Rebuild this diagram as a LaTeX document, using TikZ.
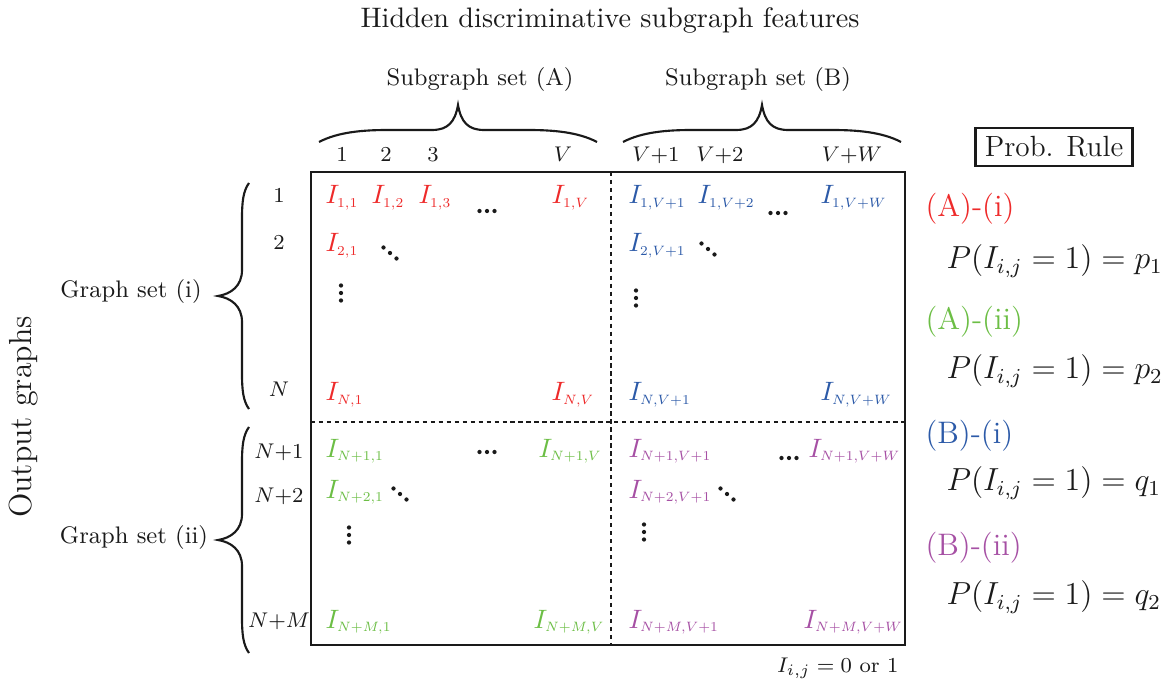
\documentclass[tikz,border=0pt]{standalone}
\usepackage{amsmath,amssymb}
\usepackage{tikz}
\usetikzlibrary{positioning,calc}
\DeclareFontShape{OML}{cmm}{m}{it}{<5.1>cmmi7<5><6><7><8><9><10><12>gen*cmmi<10.95><14.4><17.28><20.74><24.88>cmmi10}{\skewchar\font127}
\DeclareFontShape{OT1}{cmr}{m}{n}{<5.1>cmr7<5><6><7><8><9><10><12>gen*cmr<10.95><14.4><17.28><20.74><24.88>cmr10}{}
\DeclareMathSizes{10}{10}{5.1}{5}
\definecolor{setAi}  {HTML}{EE2A2A}
\definecolor{setAii} {HTML}{6CBE45}
\definecolor{setBi}  {HTML}{2C5AA8}
\definecolor{setBii} {HTML}{A650A4}
\definecolor{ink}    {HTML}{1A1A1A}

\begin{document}
\begin{tikzpicture}[x=0.01322cm,y=-0.01322cm,text=ink,
    ent/.style={anchor=base west,inner sep=0pt},
    idx/.style={anchor=base,inner sep=0pt,font=\footnotesize},
    setlab/.style={font=\fontsize{9}{11}\selectfont},
    rulehead/.style={anchor=west,inner sep=0pt,font=\fontsize{11.7}{14}\selectfont},
    ruleline/.style={anchor=west,inner sep=0pt,font=\large},
    topbrc/.pic={\draw[ink,line width=0.8pt]
        (-139,0) .. controls (-120,-10) and (-95,-12) .. (-70,-12) -- (-26,-12)
        .. controls (-10,-12) and (-3,-20) .. (0,-37)
        .. controls (3,-20) and (10,-12) .. (26,-12) -- (70,-12)
        .. controls (95,-12) and (120,-10) .. (139,0);},
    sidebrc/.pic={\draw[ink,line width=0.8pt]
        (0,-113) .. controls (-6,-105) and (-7,-93) .. (-7,-78) -- (-7,-26)
        .. controls (-7,-10) and (-18,-2) .. (-31,0)
        .. controls (-18,2) and (-7,10) .. (-7,26) -- (-7,78)
        .. controls (-7,93) and (-6,105) .. (0,113);},
    hdts/.pic={\foreach \k in {-1,0,1} \fill[ink] (\k*7.5,0) circle (0.8pt);},
    ddts/.pic={\foreach \k in {-1,0,1} \fill[ink] (\k*6.5,\k*5.5) circle (0.8pt);},
    vdts/.pic={\foreach \k in {-1,0,1} \fill[ink] (0,\k*7.5) circle (0.8pt);}]
  \useasboundingbox (0,0) rectangle (1162,683);

  \node[font=\fontsize{10.6}{13}\selectfont] (title) at (610,20) {Hidden discriminative subgraph features};
  \node[setlab] (setA) at (480,80) {Subgraph set (A)};
  \node[setlab] (setB) at (758,80) {Subgraph set (B)};
  \node[rotate=90,font=\large] (outg) at (24,417) {Output graphs};
  \node[setlab] (gseti) at (131,292) {Graph set (i)};
  \node[setlab] (gsetii) at (134,538) {Graph set (ii)};

  \pic at (458,142) {topbrc};
  \pic at (762,142) {topbrc};
  \pic at (249,296) {sidebrc};
  \pic at (249,540) {sidebrc};

  \coordinate (tl) at (311,172); \coordinate (br) at (905,645);
  \coordinate (vtop) at (611,172); \coordinate (vbot) at (611,645);
  \coordinate (hl) at (311,422); \coordinate (hr) at (905,422);
  \draw[ink,line width=0.8pt] (tl) rectangle (br);
  \draw[ink,line width=0.6pt,dash pattern=on 1.6pt off 1.4pt] (vtop) -- (vbot);
  \draw[ink,line width=0.6pt,dash pattern=on 1.6pt off 1.4pt] (hl) -- (hr);

  \node[idx] (c1) at (342,162) {$1$};
  \node[idx] (c2) at (386,162) {$2$};
  \node[idx] (c3) at (433,162) {$3$};
  \node[idx] (cV) at (563,162) {$V$};
  \node[idx] (cV1) at (656,162) {$V{+}1$};
  \node[idx] (cV2) at (720,162) {$V{+}2$};
  \node[idx] (cVW) at (852,162) {$V{+}W$};

  \node[idx] (r1) at (279,203) {$1$};
  \node[idx] (r2) at (279,250) {$2$};
  \node[idx] (rN) at (279,397) {$N$};
  \node[idx] (rN1) at (279,458) {$N{+}1$};
  \node[idx] (rN2) at (279,502) {$N{+}2$};
  \node[idx] (rNM) at (279,627) {$N{+}M$};

  \node[ent,text=setAi] (a11) at (325,204) {$I_{1,1}$};
  \node[ent,text=setAi] (a12) at (371,204) {$I_{1,2}$};
  \node[ent,text=setAi] (a13) at (418,204) {$I_{1,3}$};
  \node[ent,text=setAi] (a1V) at (551,204) {$I_{1,V}$};
  \node[ent,text=setAi] (a21) at (325,252) {$I_{2,1}$};
  \node[ent,text=setAi] (aN1) at (325,401) {$I_{N,1}$};
  \node[ent,text=setAi] (aNV) at (551,401) {$I_{N,V}$};

  \node[ent,text=setBi] (b11) at (628,204) {$I_{1,V+1}$};
  \node[ent,text=setBi] (b12) at (697,204) {$I_{1,V+2}$};
  \node[ent,text=setBi] (b1W) at (820,204) {$I_{1,V+W}$};
  \node[ent,text=setBi] (b21) at (628,252) {$I_{2,V+1}$};
  \node[ent,text=setBi] (bN1) at (628,401) {$I_{N,V+1}$};
  \node[ent,text=setBi] (bNW) at (820,401) {$I_{N,V+W}$};

  \node[ent,text=setAii] (c11) at (325,457) {$I_{N+1,1}$};
  \node[ent,text=setAii] (c1V) at (538,457) {$I_{N+1,V}$};
  \node[ent,text=setAii] (c21) at (325,498) {$I_{N+2,1}$};
  \node[ent,text=setAii] (cM1) at (325,628) {$I_{N+M,1}$};
  \node[ent,text=setAii] (cMV) at (533,628) {$I_{N+M,V}$};

  \node[ent,text=setBii] (d11) at (628,457) {$I_{N+1,V+1}$};
  \node[ent,text=setBii] (d1W) at (808,457) {$I_{N+1,V+W}$};
  \node[ent,text=setBii] (d21) at (628,498) {$I_{N+2,V+1}$};
  \node[ent,text=setBii] (dM1) at (628,628) {$I_{N+M,V+1}$};
  \node[ent,text=setBii] (dMW) at (803,628) {$I_{N+M,V+W}$};

  \pic at (487,211) {hdts};
  \pic at (778,213) {hdts};
  \pic at (487,452) {hdts};
  \pic at (789,458) {hdts};
  \pic at (390,253) {ddts};
  \pic at (708,249) {ddts};
  \pic at (400,494) {ddts};
  \pic at (727,494) {ddts};
  \pic at (341,293) {vdts};
  \pic at (636,298) {vdts};
  \pic at (349,535) {vdts};
  \pic at (644,532) {vdts};

  \node[anchor=east,inner sep=0pt,font=\footnotesize] (note) at (899,668) {$I_{i,j}=0$ or $1$};

  \node[draw=ink,line width=0.8pt,font=\fontsize{11}{13}\selectfont,
        minimum width=59pt,minimum height=14.6pt,inner sep=0pt]
    (rule) at (1054,147) {Prob. Rule};
  \node[rulehead,text=setAi] (hAi) at (925,209) {(A)-(i)};
  \node[ruleline] (pAi) at (946,261) {$P(I_{i,j}=1)=p_1$};
  \node[rulehead,text=setAii] (hAii) at (925,322) {(A)-(ii)};
  \node[ruleline] (pAii) at (946,371) {$P(I_{i,j}=1)=p_2$};
  \node[rulehead,text=setBi] (hBi) at (925,436) {(B)-(i)};
  \node[ruleline] (pBi) at (946,483) {$P(I_{i,j}=1)=q_1$};
  \node[rulehead,text=setBii] (hBii) at (925,548) {(B)-(ii)};
  \node[ruleline] (pBii) at (946,597) {$P(I_{i,j}=1)=q_2$};
\end{tikzpicture}
\end{document}
